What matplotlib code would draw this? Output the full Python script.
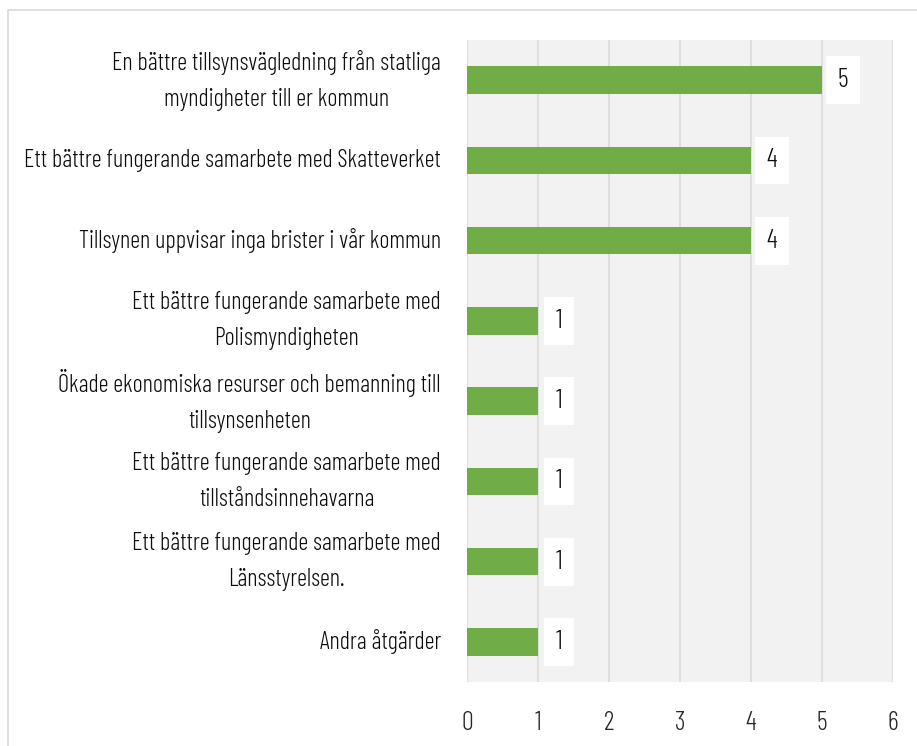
import matplotlib
matplotlib.use("Agg")
import matplotlib.pyplot as plt
from matplotlib.patches import Rectangle

categories = [
    "En bättre tillsynsvägledning från statliga\nmyndigheter till er kommun",
    "Ett bättre fungerande samarbete med Skatteverket",
    "Tillsynen uppvisar inga brister i vår kommun",
    "Ett bättre fungerande samarbete med\nPolismyndigheten",
    "Ökade ekonomiska resurser och bemanning till\ntillsynsenheten",
    "Ett bättre fungerande samarbete med\ntillståndsinnehavarna",
    "Ett bättre fungerande samarbete med\nLänsstyrelsen.",
    "Andra åtgärder",
]
values = [5, 4, 4, 1, 1, 1, 1, 1]
xticks = [0, 1, 2, 3, 4, 5, 6]

FONT = ["Barlow Condensed", "DejaVu Sans"]
WEIGHT = 300
FS = 17.6

W, H = 917, 746
fig = plt.figure(figsize=(W / 100, H / 100), dpi=100)
fig.patch.set_facecolor("white")
ax = fig.add_axes([467 / W, 1 - 682 / H, (893 - 467) / W, (682 - 40) / H])
ax.set_facecolor("#F2F2F2")

ypos = list(range(len(categories)))
ax.barh(ypos, values, height=0.34, color="#70AD47", zorder=3)
ax.set_ylim(len(categories) - 0.5, -0.5)
ax.set_xlim(xticks[0], xticks[-1])
ax.set_xticks(xticks)
ax.set_xticklabels([str(t) for t in xticks])
ax.set_yticks(ypos)
ax.set_yticklabels([])
ax.grid(axis="x", color="#D9D9D9", linewidth=1.1, zorder=1)
ax.set_axisbelow(True)
for s in ax.spines.values():
    s.set_visible(False)
ax.tick_params(axis="x", length=0, pad=21, labelsize=19, labelcolor="#262626")
ax.tick_params(axis="y", length=0)
for lab in ax.get_xticklabels():
    lab.set_fontfamily(FONT)
    lab.set_fontweight(WEIGHT)

for y, cat in zip(ypos, categories):
    ax.annotate(cat, xy=(0, y), xycoords="data", xytext=(-26, 0), textcoords="offset pixels",
                ha="right", va="center", multialignment="center", fontsize=FS,
                family=FONT, weight=WEIGHT, color="#0D0D0D", linespacing=1.72)

for y, v in zip(ypos, values):
    ax.annotate(str(v), xy=(v, y), xycoords="data", xytext=(21, 0), textcoords="offset pixels",
                ha="center", va="center", fontsize=19, family=FONT, weight=WEIGHT, color="#0D0D0D",
                zorder=5,
                bbox=dict(boxstyle="square,pad=0.45", facecolor="white", edgecolor="none"))

fig.patches.append(Rectangle((8 / W, -0.2), 1.5, 1.2 - 10 / H, transform=fig.transFigure,
                             fill=False, edgecolor="#D9D9D9", linewidth=1.2))

fig.savefig("out.png", dpi=100)
